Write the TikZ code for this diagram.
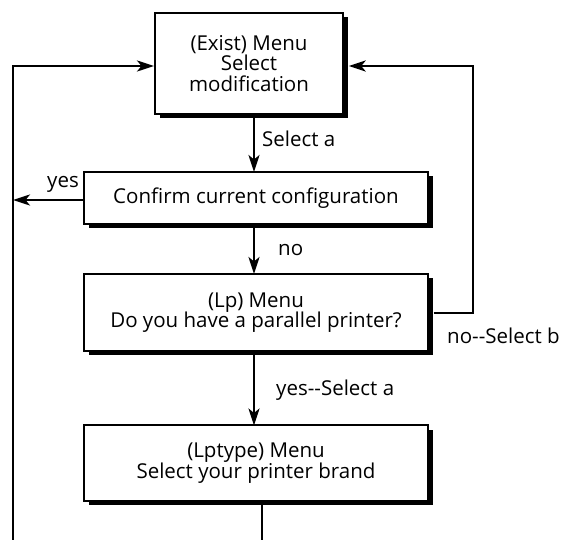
\documentclass[tikz,border=0pt]{standalone}
\usepackage{fontspec}
\setmainfont{Open Sans}
\usetikzlibrary{arrows.meta}
\begin{document}
\begin{tikzpicture}[x=1pt,y=-1pt,
  font=\fontsize{20.5}{20.5}\selectfont,
  line width=2.4pt,
  menubox/.style={draw=black,fill=white,line width=2pt,align=center,inner sep=0pt},
  shadowbox/.style={draw=none,fill=black,inner sep=0pt},
  flow/.style={-{Stealth[length=17pt,width=11pt,inset=4.5pt]}},
  lbl/.style={inner sep=0pt,anchor=west}]
\fill[white] (0,0) rectangle (563,540);
\useasboundingbox (0,0) rectangle (563,540);
% shadows
\node[shadowbox,minimum width=188pt,minimum height=101pt] (existsh) at (253.5,68) {};
\node[shadowbox,minimum width=344pt,minimum height=52pt] (confirmsh) at (260.5,202.5) {};
\node[shadowbox,minimum width=344pt,minimum height=77pt] (lpsh) at (260.5,317) {};
\node[shadowbox,minimum width=344pt,minimum height=75pt] (lptypesh) at (260.5,467.5) {};
% boxes
\node[menubox,minimum width=188pt,minimum height=101pt] (exist) at (249,63.5)
  {(Exist) Menu\\Select\\modification};
\node[menubox,minimum width=344pt,minimum height=52pt] (confirm) at (256,198)
  {Confirm current configuration};
\node[menubox,minimum width=344pt,minimum height=77pt] (lp) at (256,312.5)
  {(Lp) Menu\\Do you have a parallel printer?};
\node[menubox,minimum width=344pt,minimum height=75pt] (lptype) at (256,463)
  {(Lptype) Menu\\Select your printer brand};
\coordinate (leftbot) at (13,540);
\coordinate (leftyes) at (13,200);
\coordinate (lefttop) at (13,66);
\coordinate (rightmid) at (473,313);
\coordinate (righttop) at (473,66);
\coordinate (lptbot) at (262,540);
\draw[flow] (254,118) -- (254,172);
\draw[flow] (254,228) -- (254,274);
\draw[flow] (254,355) -- (254,425.5);
\draw[flow] (confirm.west |- leftyes) -- (leftyes);
\draw[flow] (leftbot) -- (lefttop) -- (exist.west |- lefttop);
\draw[flow] (lpsh.east |- rightmid) -- (rightmid) -- (righttop) -- (existsh.east |- righttop);
\draw (262,505) -- (lptbot);
\node[lbl] (la) at (261,139) {Select a};
\node[lbl] (lno) at (277,250) {no};
\node[lbl] (lyes) at (46,184) {yes};
\node[lbl] (lyesa) at (275,390) {yes-{}-Select a};
\node[lbl] (lnob) at (446,336) {no-{}-Select b};
\end{tikzpicture}
\end{document}
